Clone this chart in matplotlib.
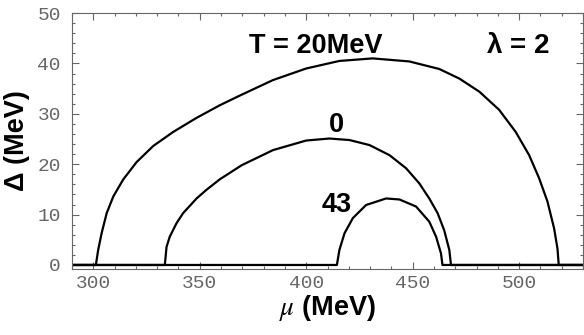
import matplotlib
matplotlib.use("Agg")
import matplotlib.pyplot as plt
from matplotlib.ticker import MultipleLocator

# gap curves (mu in MeV, delta in MeV)
mu_t20 = [290, 301.2, 302.3, 303.9, 306.3, 309.4, 314.1, 320.3, 328.1, 337.5, 348.5,
          359.4, 369.7, 384.4, 400.0, 415.6, 431.2, 448.4, 462.5, 471.9, 481.3, 490.6,
          498.4, 504.7, 509.4, 513.3, 516.4, 518.0, 518.6, 530]
delta_t20 = [0, 0, 3.0, 6.3, 10.3, 13.6, 17.0, 20.4, 23.6, 26.4, 29.2,
             31.7, 33.8, 36.7, 39.0, 40.5, 41.0, 40.4, 38.9, 37.0, 34.4, 30.8,
             26.4, 21.8, 17.2, 12.6, 7.3, 3.3, 0, 0]

mu_t0 = [290, 333.6, 334.4, 335.9, 339.1, 342.2, 348.5, 353.1, 359.4, 369.7, 384.4,
         400.0, 410.9, 420.3, 429.7, 439.1, 446.9, 453.1, 457.8, 461.7, 464.8,
         467.2, 468.0, 530]
delta_t0 = [0, 0, 3.6, 5.6, 8.3, 10.3, 13.2, 14.9, 17.0, 19.8, 22.8,
            24.7, 25.1, 24.8, 23.8, 21.8, 19.2, 16.2, 13.2, 10.3, 6.9,
            3.0, 0, 0]

mu_t43 = [290, 414.4, 415.6, 418.0, 421.9, 428.1, 437.5, 443.8, 451.6, 457.8,
          461.0, 463.3, 464.0, 530]
delta_t43 = [0, 0, 3.0, 6.3, 9.3, 11.9, 13.2, 13.0, 11.6, 8.6,
             5.6, 2.3, 0, 0]

curve_labels = ["T = 20MeV", "0", "43"]
label_pos = [(404.4, 43.5), (414.1, 27.8), (414.1, 11.9)]

plt.rcParams["mathtext.fontset"] = "stix"
grey = "#666666"

fig = plt.figure(figsize=(5.84, 3.35), dpi=100)
ax = fig.add_axes([0.1233, 0.197, 0.875, 0.764])

for mu, dl in [(mu_t20, delta_t20), (mu_t0, delta_t0), (mu_t43, delta_t43)]:
    ax.plot(mu, dl, color="black", lw=1.6, solid_joinstyle="round")

ax.set_xlim(290, 530)
ax.set_ylim(-0.8, 50)

ax.xaxis.set_major_locator(MultipleLocator(50))
ax.xaxis.set_minor_locator(MultipleLocator(10))
ax.yaxis.set_major_locator(MultipleLocator(10))
ax.yaxis.set_minor_locator(MultipleLocator(2))
ax.tick_params(which="both", direction="in", top=True, right=True, color=grey, width=0.8)
ax.tick_params(which="major", length=5)
ax.tick_params(which="minor", length=2.5)
ax.tick_params(axis="x", which="major", pad=4)
ax.tick_params(axis="y", which="major", pad=8)
for lab in ax.get_xticklabels() + ax.get_yticklabels():
    lab.set_family("Liberation Mono")
    lab.set_fontsize(14)
    lab.set_color(grey)
for sp in ax.spines.values():
    sp.set_color(grey)
    sp.set_linewidth(0.8)

lab_font = dict(family="Liberation Sans", weight="bold", fontsize=19.5)
ax.set_xlabel(r"$\mu$ (MeV)", labelpad=1, **lab_font)
ax.set_ylabel("\u0394 (MeV)", labelpad=5, **lab_font)

for txt, (x, y) in zip(curve_labels, label_pos):
    ax.text(x, y, txt, ha="center", va="center", **lab_font)
ax.text(499.3, 43.5, r"$\mathregular{\lambda}$ = 2", ha="center", va="center",
        family="Liberation Sans", weight="bold", fontsize=20)

fig.savefig("out.png", dpi=100)
